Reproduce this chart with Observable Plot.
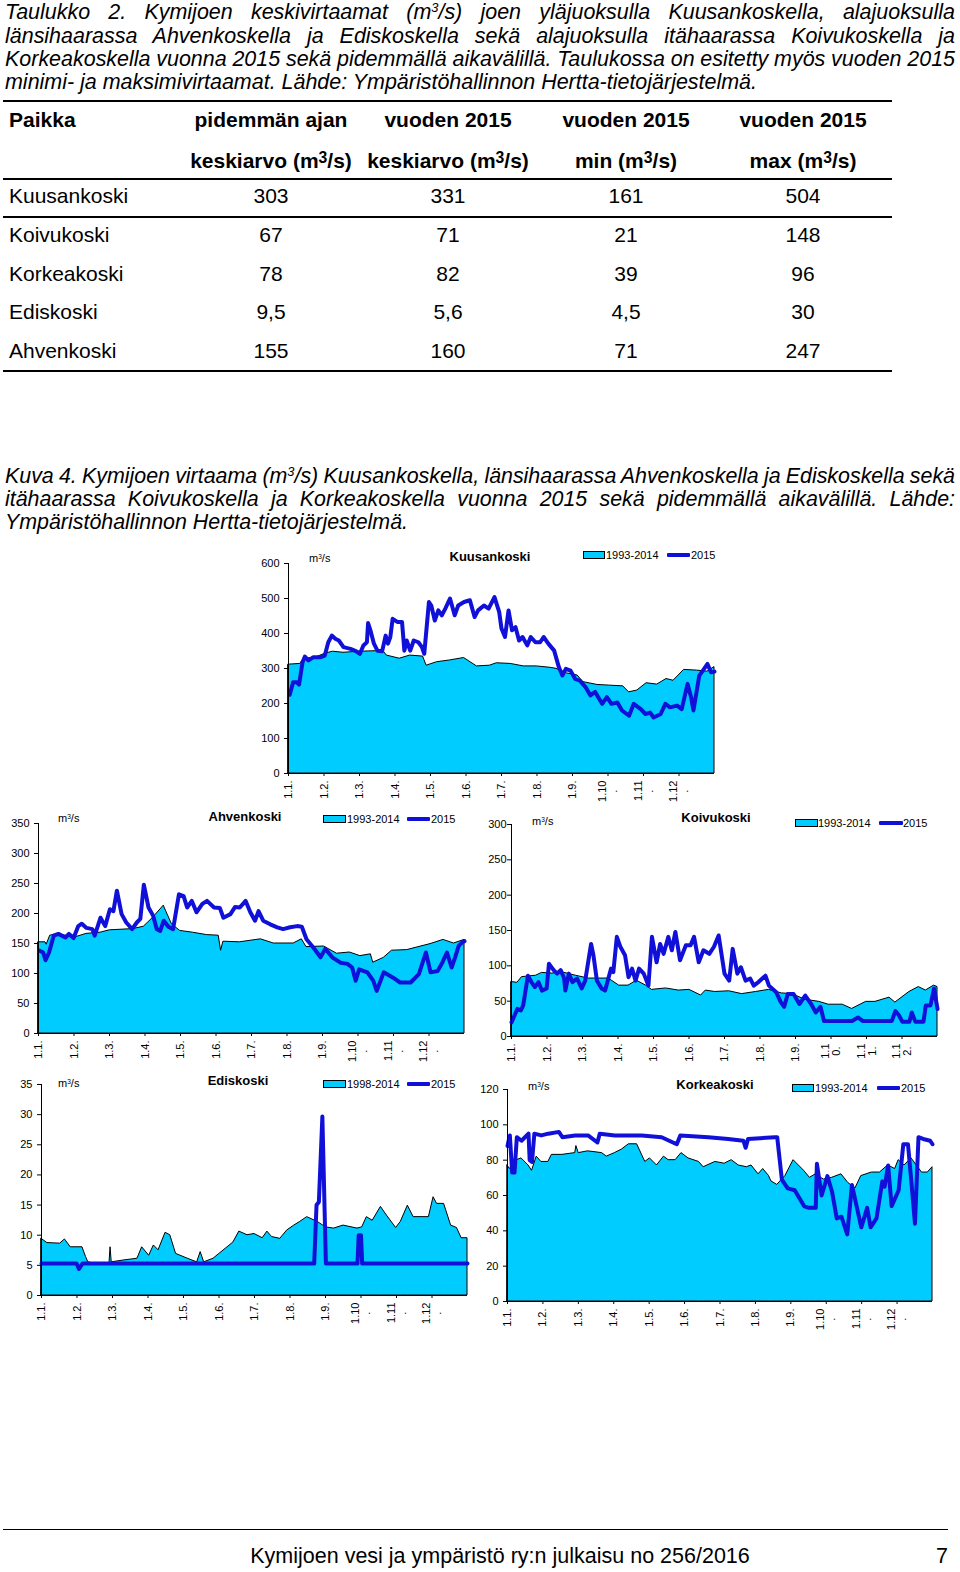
<!DOCTYPE html>
<html><head><meta charset="utf-8">
<script src="https://cdn.jsdelivr.net/npm/d3@7"></script>
<script src="https://cdn.jsdelivr.net/npm/@observablehq/plot@0.6"></script>
<style>
html,body{margin:0;padding:0;background:#fff;}
body{width:960px;height:1572px;position:relative;overflow:hidden;font-family:"Liberation Sans",Arial,Helvetica,sans-serif;color:#000;}
.abs{position:absolute;white-space:nowrap;}
.ln{position:absolute;white-space:nowrap;display:inline-block;transform-origin:0 50%;}
.it{font-style:italic;}
sup{font-size:0.6em;vertical-align:0.5em;line-height:0;}
.rule{position:absolute;background:#000;}
.cell{position:absolute;width:220px;text-align:center;white-space:nowrap;line-height:24px;font-size:21px;}
.small{font-size:11px;line-height:14px;}
.ttl{font-size:13px;line-height:16px;font-weight:bold;}
.legbox{position:absolute;height:6px;background:#00ccff;border:1px solid #000;}
.legline{position:absolute;height:4px;background:#1010d8;border-radius:1px;}
</style></head>
<body>
<div id="page"></div>
<script>
// ---------- table data ----------
const places   = ["Kuusankoski","Koivukoski","Korkeakoski","Ediskoski","Ahvenkoski"];
const longMean = ["303","67","78","9,5","155"];
const mean2015 = ["331","71","82","5,6","160"];
const min2015  = ["161","21","39","4,5","71"];
const max2015  = ["504","148","96","30","247"];
const headRow1 = ["pidemmän ajan","vuoden 2015","vuoden 2015","vuoden 2015"];
const headRow2 = ["keskiarvo (m³/s)","keskiarvo (m³/s)","min (m³/s)","max (m³/s)"];

// ---------- axis labels ----------
const monthTickDays = [1, 31.33, 61.67, 92, 122.33, 152.67, 183, 213.33, 243.67, 274, 304.33, 334.67];
const monthLabels = ["1.1.","1.2.","1.3.","1.4.","1.5.","1.6.","1.7.","1.8.","1.9.","1.10\n.","1.11\n.","1.12\n."];
const monthLabelsKoivu = ["1.1.","1.2.","1.3.","1.4.","1.5.","1.6.","1.7.","1.8.","1.9.","1.1\n0.","1.1\n1.","1.1\n2."];
const ticksKuus = [0,100,200,300,400,500,600];
const ticksAhven = [0,50,100,150,200,250,300,350];
const ticksKoivu = [0,50,100,150,200,250,300];
const ticksEdis = [0,5,10,15,20,25,30,35];
const ticksKorkea = [0,20,40,60,80,100,120];

// ---------- series: [day of year, m3/s] ----------
const kuusMean = [[1,311],[11,313],[14,327],[25,332],[32,342],[39,348],[48,345],[62,348],[82,350],[85,337],[96,328],[105,337],[116,334],[119,308],[128,318],[139,323],[151,330],[162,306],[173,308],[179,315],[191,313],[202,306],[213,306],[225,302],[230,299],[239,286],[248,280],[253,261],[265,253],[276,251],[287,249],[292,232],[299,237],[307,258],[316,254],[324,270],[330,265],[339,296],[350,294],[359,291],[365,304]];
const kuus2015 = [[2,225],[5,261],[8,261],[10,254],[13,318],[15,334],[18,323],[22,332],[28,332],[32,337],[35,375],[38,394],[41,385],[44,380],[48,361],[54,356],[59,349],[62,342],[65,366],[68,375],[69,430],[71,409],[74,371],[77,351],[81,349],[84,394],[86,371],[88,390],[90,442],[94,433],[98,433],[100,351],[102,380],[105,351],[108,380],[112,375],[115,361],[117,342],[121,490],[123,480],[126,437],[129,466],[132,452],[135,471],[139,500],[143,452],[146,480],[151,490],[156,495],[160,447],[163,466],[168,480],[172,471],[177,504],[181,462],[183,414],[186,390],[189,466],[192,409],[195,418],[198,380],[201,390],[205,366],[208,390],[212,375],[216,375],[219,390],[223,371],[228,351],[232,304],[235,280],[238,299],[242,294],[246,270],[250,265],[255,246],[259,223],[263,233],[269,199],[273,218],[277,199],[282,203],[286,180],[292,165],[296,199],[302,184],[306,170],[310,174],[313,160],[319,170],[323,199],[327,189],[333,194],[337,184],[342,256],[345,218],[347,180],[352,280],[354,289],[359,313],[362,289],[365,291]];

const ahvenMean = [[1,152],[7,152],[8,148],[11,163],[18,166],[28,161],[32,160],[42,166],[54,168],[62,172],[82,174],[91,178],[99,193],[108,213],[115,182],[122,171],[133,168],[145,164],[155,163],[157,138],[159,153],[173,152],[191,157],[202,150],[219,150],[226,157],[230,144],[245,145],[256,133],[267,135],[276,129],[285,132],[287,118],[296,126],[303,138],[316,139],[324,143],[336,149],[347,156],[356,150],[365,156]];
const ahven2015 = [[2,138],[5,135],[7,122],[10,135],[14,163],[18,166],[24,160],[27,166],[31,159],[35,179],[38,183],[42,176],[47,174],[49,163],[54,193],[58,179],[62,207],[65,204],[68,238],[72,199],[76,185],[81,174],[85,185],[88,191],[91,248],[95,210],[99,196],[102,174],[105,171],[108,188],[112,178],[116,174],[121,232],[125,229],[128,210],[132,221],[136,202],[141,216],[145,221],[151,210],[156,209],[159,193],[165,199],[169,211],[173,210],[178,221],[182,202],[186,188],[189,204],[193,188],[199,182],[205,177],[210,174],[216,177],[222,179],[226,178],[230,157],[236,143],[242,127],[246,141],[252,127],[259,118],[265,116],[269,110],[272,88],[275,107],[282,102],[287,88],[290,71],[296,102],[304,93],[310,85],[319,85],[326,99],[332,135],[336,102],[342,104],[346,118],[350,135],[354,110],[357,127],[360,146],[363,152],[365,154]];

const koivuMean = [[1,77],[6,76],[10,84],[22,86],[27,90],[36,89],[44,91],[56,86],[67,82],[84,82],[93,72],[101,72],[108,79],[116,72],[121,66],[133,68],[144,65],[153,66],[163,58],[167,65],[175,63],[187,64],[198,60],[210,63],[221,66],[232,61],[241,60],[252,52],[264,49],[272,45],[284,45],[292,39],[304,49],[312,49],[324,55],[329,48],[341,63],[349,70],[355,65],[362,72],[365,70]];
const koivu2015 = [[1,20],[6,39],[9,37],[11,44],[15,86],[18,77],[21,70],[24,77],[27,65],[31,68],[33,103],[37,94],[40,89],[43,94],[46,82],[47,65],[50,89],[53,77],[57,82],[61,68],[64,79],[69,131],[71,115],[74,79],[78,68],[81,65],[86,96],[88,91],[91,141],[94,127],[98,115],[101,84],[104,96],[107,79],[110,96],[114,89],[118,72],[121,141],[125,105],[128,131],[131,117],[135,141],[138,122],[141,148],[145,108],[150,129],[154,129],[157,141],[161,105],[165,122],[170,117],[174,127],[178,143],[183,89],[187,79],[190,124],[194,89],[197,98],[201,79],[205,82],[208,72],[212,77],[218,86],[221,72],[227,63],[231,49],[234,42],[237,60],[242,60],[247,46],[252,58],[257,46],[261,34],[265,42],[268,22],[292,22],[297,27],[301,22],[326,22],[329,36],[332,30],[335,21],[341,21],[343,34],[346,21],[353,21],[355,44],[359,44],[362,68],[365,39]];

const edisMean = [[1,9.4],[6,8.7],[17,8.6],[21,9.3],[26,8.0],[36,8.0],[39,6.4],[41,5.5],[51,5.1],[59,5.1],[60,8.0],[61,5.5],[71,5.8],[83,6.1],[87,8.0],[93,6.6],[97,8.3],[101,7.5],[107,10.4],[111,10.0],[116,6.9],[126,6.1],[134,5.5],[137,7.2],[140,5.5],[148,6.1],[153,6.9],[160,8.0],[165,8.8],[170,10.6],[177,10.0],[183,10.2],[190,9.5],[194,10.6],[198,9.7],[205,9.4],[211,10.8],[217,11.6],[222,12.2],[228,13.0],[237,12.2],[244,11.3],[251,11.1],[259,11.6],[271,11.1],[275,11.3],[279,13.0],[284,12.4],[291,14.7],[296,13.3],[304,11.2],[308,12.2],[314,14.9],[319,13.0],[332,13.0],[336,16.3],[339,15.2],[345,15.2],[351,11.6],[356,11.2],[360,9.5],[365,9.5]];
const edis2015 = [[1,5.3],[31,5.3],[33,4.4],[36,5.3],[234,5.3],[236,15],[238,15.5],[241,29.7],[244,5.3],[271,5.3],[272,10],[274,10],[275,5.3],[365,5.3]];

const korkeaMean = [[1,77],[3,75],[9,80],[13,81],[19,77],[22,74],[26,82],[30,79],[36,79],[39,83],[48,83],[59,84],[60,88],[62,84],[70,85],[82,84],[86,82],[93,84],[99,86],[105,89],[112,89],[119,79],[123,81],[129,77],[135,82],[139,80],[145,80],[150,84],[156,81],[165,79],[169,76],[179,79],[187,78],[193,80],[199,77],[206,76],[210,77],[216,72],[220,75],[225,71],[227,68],[232,66],[239,71],[246,80],[255,74],[260,70],[265,72],[272,69],[279,70],[287,72],[293,67],[299,64],[304,71],[313,73],[320,73],[327,77],[333,75],[336,80],[341,77],[347,81],[356,73],[361,73],[365,76]];
const korkea2015 = [[1,88],[3,94],[5,73],[7,73],[9,93],[13,91],[19,95],[20,80],[22,79],[24,95],[30,94],[36,95],[45,96],[48,93],[59,94],[70,94],[78,90],[80,95],[93,94],[116,94],[133,93],[146,89],[149,94],[173,93],[190,92],[203,91],[205,87],[207,92],[230,93],[232,93],[236,69],[241,64],[247,63],[255,54],[259,53],[265,53],[266,78],[270,60],[275,71],[279,62],[283,47],[287,48],[292,38],[296,66],[300,54],[304,42],[309,53],[312,42],[317,47],[322,68],[324,65],[327,77],[330,54],[336,63],[340,89],[344,89],[347,67],[350,44],[353,93],[357,92],[363,91],[365,89]];

// ---------- page text ----------
const page = document.getElementById("page");
function add(html, cls, style){
  const el = document.createElement("div");
  el.className = cls; el.innerHTML = html;
  Object.assign(el.style, style);
  page.appendChild(el); return el;
}
function paragraph(lines, centers, fontSize, lastTarget, left, fullWidth, italic){
  const els = lines.map((t,i) => add(t, "ln" + (italic ? " it" : ""), {
    left: left+"px", top: (centers[i]-12)+"px", fontSize: fontSize+"px", lineHeight: "24px"}));
  const last = els[els.length-1];
  const s = lastTarget / last.getBoundingClientRect().width;
  els.forEach((el,i) => {
    if (i < els.length-1) {
      const w0 = el.getBoundingClientRect().width;
      const n = (el.textContent.match(/ /g)||[]).length;
      el.style.wordSpacing = ((fullWidth/s - w0)/n) + "px";
    }
    el.style.transform = `scaleX(${s})`;
  });
}

paragraph([
  "Taulukko 2. Kymijoen keskivirtaamat (m<sup>3</sup>/s) joen yläjuoksulla Kuusankoskella, alajuoksulla",
  "länsihaarassa Ahvenkoskella ja Ediskoskella sekä alajuoksulla itähaarassa Koivukoskella ja",
  "Korkeakoskella vuonna 2015 sekä pidemmällä aikavälillä. Taulukossa on esitetty myös vuoden 2015",
  "minimi- ja maksimivirtaamat. Lähde: Ympäristöhallinnon Hertta-tietojärjestelmä."
], [12, 35.5, 58.5, 82], 22, 752, 5, 950, true);

paragraph([
  "Kuva 4. Kymijoen virtaama (m<sup>3</sup>/s) Kuusankoskella, länsihaarassa Ahvenkoskella ja Ediskoskella sekä",
  "itähaarassa Koivukoskella ja Korkeakoskella vuonna 2015 sekä pidemmällä aikavälillä. Lähde:",
  "Ympäristöhallinnon Hertta-tietojärjestelmä."
], [476, 499, 522], 22, 403, 5, 950, true);

// table
const colCenters = [271, 448, 626, 803];
[101, 179, 217, 371].forEach(y => add("", "rule", {left:"3px", top:(y-1)+"px", width:"889px", height:"2px"}));
add("Paikka", "abs", {left:"9px", top:(120-12)+"px", fontSize:"21px", lineHeight:"24px", fontWeight:"bold"});
headRow1.forEach((t,i) => add(t, "cell", {left:(colCenters[i]-110)+"px", top:(120-12)+"px", fontWeight:"bold"}));
headRow2.forEach((t,i) => add(t.replace("³","<span style='font-size:0.75em;vertical-align:0.3em'>3</span>"), "cell", {left:(colCenters[i]-110)+"px", top:(158-12)+"px", fontWeight:"bold"}));
const rowCenters = [196, 235, 274, 312, 351];
places.forEach((p,r) => {
  add(p, "abs", {left:"9px", top:(rowCenters[r]-12)+"px", fontSize:"21px", lineHeight:"24px"});
  [longMean, mean2015, min2015, max2015].forEach((col,i) =>
    add(col[r], "cell", {left:(colCenters[i]-110)+"px", top:(rowCenters[r]-12)+"px"}));
});

// footer
add("", "rule", {left:"3px", top:"1529px", width:"945px", height:"1px"});
add("Kymijoen vesi ja ympäristö ry:n julkaisu no 256/2016", "abs", {left:"250px", width:"500px", textAlign:"center", top:(1556-12)+"px", fontSize:"21.5px", lineHeight:"24px"});
add("7", "abs", {left:"936px", top:(1556-12)+"px", fontSize:"21.5px", lineHeight:"24px"});

// ---------- charts ----------
const toRows = a => a.map(([d,v]) => ({d, v}));
function fmtLabel(s){
  const parts = s.split("\n");
  if (parts.length < 2) return s;
  const pad = "\u00a0".repeat(Math.max(0, parts[0].length - parts[1].length));
  return parts[0] + "\n" + parts[1] + pad;
}
function chart(cfg){
  const {L,R,T,B,yMax,yTicks,mean,cur,labels,padY,title,titleX,titleY,unitX,unitY,leg,period} = cfg;
  const mL = 50, mR = 20, mT = 24, mB = 40;
  const svg = Plot.plot({
    width: (R-L)+mL+mR, height: (B-T)+mT+mB,
    marginLeft: mL, marginRight: mR, marginTop: mT, marginBottom: mB,
    style: {background:"none", fontSize:"11px", fontFamily:"'Liberation Sans', Arial, sans-serif", overflow:"visible", color:"#000"},
    x: {domain:[1,365]},
    y: {domain:[0,yMax]},
    marks: [
      Plot.areaY(toRows(mean), {x:"d", y:"v", fill:"#00ccff", stroke:"#000", strokeWidth:1}),
      Plot.lineY(toRows(cur), {x:"d", y:"v", stroke:"#1010d8", strokeWidth:4, strokeLinejoin:"round", strokeLinecap:"round"}),
      Plot.ruleX([1], {stroke:"#000", strokeWidth:1}),
      Plot.ruleY([0], {stroke:"#000", strokeWidth:1}),
      Plot.axisY({ticks: yTicks, tickSize: 4, tickPadding: padY, label: null, tickFormat: d => String(d), stroke:"#000", fill:"#000"}),
      Plot.axisX({ticks: monthTickDays, tickSize: 3, tickFormat: () => "", label: null, stroke:"#000"}),
      Plot.text(monthTickDays, {x: d => d, text: (d,i) => fmtLabel(labels[i]), frameAnchor:"bottom", rotate:-90, textAnchor:"end", lineAnchor:"middle", dy: 7, fill:"#000", fontSize: 11})
    ]
  });
  const wrap = document.createElement("div");
  wrap.style.position = "absolute"; wrap.style.left = (L-mL)+"px"; wrap.style.top = (T-mT)+"px";
  wrap.appendChild(svg); page.appendChild(wrap);
  // title, unit, legend
  add(title, "abs ttl", {left:(titleX-100)+"px", width:"200px", textAlign:"center", top:(titleY-8)+"px"});
  add("m<sup>3</sup>/s", "abs small", {left:unitX+"px", top:(unitY-7)+"px"});
  const [rL, rR, t1, lL, lR, t2, ly] = leg;
  add("", "legbox", {left:rL+"px", width:(rR-rL-2)+"px", top:(ly-4)+"px"});
  add(period, "abs small", {left:t1+"px", top:(ly-7)+"px"});
  add("", "legline", {left:lL+"px", width:(lR-lL)+"px", top:(ly-2)+"px"});
  add("2015", "abs small", {left:t2+"px", top:(ly-7)+"px"});
}

chart({L:288,R:714,T:563,B:773,yMax:600,yTicks:ticksKuus,mean:kuusMean,cur:kuus2015,labels:monthLabels,padY:5,
  title:"Kuusankoski",titleX:490,titleY:557,unitX:309,unitY:558,leg:[583,605,606,667,690,691,555],period:"1993-2014"});
chart({L:38,R:464,T:823,B:1033,yMax:350,yTicks:ticksAhven,mean:ahvenMean,cur:ahven2015,labels:monthLabels,padY:5,
  title:"Ahvenkoski",titleX:245,titleY:817,unitX:58,unitY:818,leg:[323,346,347,407,430,431,819],period:"1993-2014"});
chart({L:511,R:937,T:824,B:1036,yMax:300,yTicks:ticksKoivu,mean:koivuMean,cur:koivu2015,labels:monthLabelsKoivu,padY:1,
  title:"Koivukoski",titleX:716,titleY:818,unitX:532,unitY:821,leg:[795,818,818,879,903,903,823],period:"1993-2014"});
chart({L:41,R:467,T:1084,B:1295,yMax:35,yTicks:ticksEdis,mean:edisMean,cur:edis2015,labels:monthLabels,padY:5,
  title:"Ediskoski",titleX:238,titleY:1081,unitX:58,unitY:1083,leg:[323,346,347,407,430,431,1084],period:"1998-2014"});
chart({L:507,R:932,T:1089,B:1301,yMax:120,yTicks:ticksKorkea,mean:korkeaMean,cur:korkea2015,labels:monthLabels,padY:5,
  title:"Korkeakoski",titleX:715,titleY:1085,unitX:528,unitY:1086,leg:[792,814,815,877,900,901,1088],period:"1993-2014"});
</script>
</body></html>
